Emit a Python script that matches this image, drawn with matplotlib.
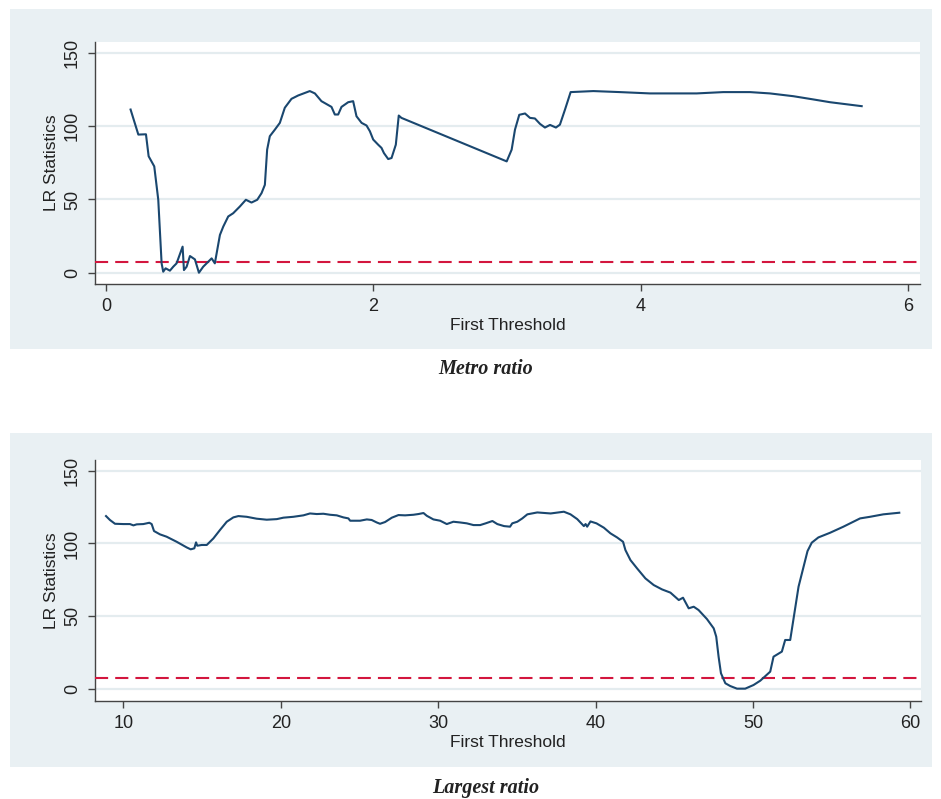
import matplotlib
matplotlib.use("Agg")
import matplotlib.pyplot as plt
from matplotlib.patches import Rectangle

plt.rcParams['font.family'] = ['Liberation Sans', 'DejaVu Sans']

# ---------------- data ----------------
metro_x = [0.184, 0.242, 0.299, 0.319, 0.361, 0.391, 0.416, 0.428, 0.446, 0.478, 0.503, 0.528,
           0.573, 0.583, 0.603, 0.628, 0.665, 0.695, 0.727, 0.790, 0.814, 0.852, 0.877, 0.914,
           0.951, 1.001, 1.046, 1.088, 1.131, 1.163, 1.188, 1.205, 1.225, 1.263, 1.300, 1.337,
           1.387, 1.437, 1.524, 1.562, 1.611, 1.686, 1.711, 1.736, 1.761, 1.811, 1.848, 1.873,
           1.911, 1.948, 1.973, 1.998, 2.035, 2.060, 2.078, 2.110, 2.135, 2.167, 2.189, 2.209,
           2.996, 3.033, 3.058, 3.090, 3.133, 3.170, 3.207, 3.245, 3.282, 3.320, 3.364, 3.394,
           3.432, 3.474, 3.644, 3.843, 4.067, 4.416, 4.615, 4.815, 4.964, 5.139, 5.288, 5.413,
           5.650]
metro_lr = [111.4, 94.3, 94.5, 79.5, 72.6, 49.8, 6.4, 0.7, 3.0, 1.4, 4.1, 6.4,
            17.8, 1.8, 4.1, 11.4, 9.1, 0.0, 4.1, 9.8, 6.4, 25.8, 31.5, 38.4,
            40.6, 45.2, 49.8, 47.9, 49.8, 54.3, 60.0, 84.0, 93.2, 97.7, 102.3, 112.6,
            118.7, 121.0, 124.0, 122.4, 117.1, 113.2, 108.0, 108.0, 113.2, 116.4, 117.1, 106.8,
            102.3, 100.5, 96.6, 90.9, 87.4, 85.2, 81.7, 77.6, 78.3, 87.4, 107.3, 105.7,
            76.0, 84.0, 97.7, 107.8, 108.7, 105.7, 105.3, 101.6, 99.1, 100.9, 99.1, 101.1,
            111.4, 123.3, 124.0, 123.3, 122.4, 122.4, 123.3, 123.3, 122.4, 120.5, 118.3, 116.4,
            113.7]

largest_x = [8.90, 9.15, 9.47, 10.00, 10.42, 10.64, 10.85, 11.27, 11.65, 11.80, 11.95, 12.33,
             12.75, 13.39, 14.03, 14.28, 14.51, 14.62, 14.70, 14.98, 15.30, 15.72, 16.14, 16.57,
             16.99, 17.31, 17.84, 18.47, 19.11, 19.75, 20.17, 20.59, 20.80, 21.44, 21.86, 22.29,
             22.71, 23.14, 23.56, 23.98, 24.30, 24.41, 25.04, 25.47, 25.78, 26.10, 26.31, 26.63,
             27.06, 27.48, 27.90, 28.43, 28.75, 29.07, 29.28, 29.70, 30.13, 30.55, 30.97, 31.40,
             31.82, 32.25, 32.67, 33.02, 33.45, 33.76, 34.19, 34.57, 34.71, 35.03, 35.35, 35.67,
             36.30, 37.15, 37.99, 38.41, 38.84, 39.26, 39.37, 39.47, 39.68, 40.06, 40.53, 40.95,
             41.37, 41.75, 41.90, 42.22, 42.64, 43.17, 43.70, 44.23, 44.76, 45.29, 45.56, 45.92,
             46.24, 46.55, 47.08, 47.51, 47.67, 47.82, 47.97, 48.25, 48.56, 48.99, 49.51, 50.04,
             50.47, 51.10, 51.31, 51.84, 52.05, 52.37, 52.90, 53.47, 53.74, 54.16, 54.90, 55.75,
             56.81, 57.44, 58.29, 59.30]
largest_lr = [118.8, 116.1, 113.5, 113.3, 113.3, 112.4, 113.1, 113.3, 114.2, 113.3, 108.5, 106.2,
              104.6, 101.1, 97.2, 95.9, 96.6, 100.7, 98.4, 98.9, 98.9, 103.4, 109.2, 114.9,
              117.9, 118.8, 118.3, 117.0, 116.3, 116.7, 117.7, 118.1, 118.3, 119.3, 120.6, 120.2,
              120.4, 119.7, 119.3, 117.9, 117.2, 115.6, 115.6, 116.5, 116.1, 114.4, 113.5, 114.7,
              117.7, 119.5, 119.3, 119.7, 120.2, 120.9, 119.0, 116.5, 115.6, 113.3, 114.9, 114.4,
              113.8, 112.6, 112.6, 113.8, 115.4, 113.3, 111.9, 111.5, 113.8, 114.9, 117.2, 120.0,
              121.3, 120.6, 121.8, 120.0, 116.7, 111.9, 113.3, 111.5, 115.1, 113.8, 110.8, 106.9,
              104.1, 101.1, 95.4, 88.5, 82.8, 75.9, 71.3, 68.3, 66.1, 61.0, 62.6, 55.3,
              56.4, 54.1, 47.9, 41.5, 35.8, 22.0, 10.6, 3.7, 1.8, 0.0, 0.0, 2.5,
              5.5, 11.7, 22.0, 25.5, 33.5, 33.5, 70.2, 94.7, 100.5, 104.1, 107.3, 111.5,
              117.2, 118.3, 120.0, 121.1]

critical_value = 7.35
y_ticks = [0, 50, 100, 150]
metro_xticks = [0, 2, 4, 6]
largest_xticks = [10, 20, 30, 40, 50, 60]
x_label = "First Threshold"
y_label = "LR Statistics"
captions = ["Metro ratio", "Largest ratio"]

# ---------------- style ----------------
W, H = 941, 799
fig = plt.figure(figsize=(W / 100, H / 100), dpi=100)
panel_color = '#e9f0f3'
grid_color = '#e4ecef'
line_color = '#1a476f'
red = '#d3163e'
spine_color = '#444444'


def fx(px):
    return px / W


def fy(py):
    return 1 - py / H


def make_panel(panel_px, ax_px, x, y, xticks, xlim, ylim, caption, cap_y):
    l, t, r, b = panel_px
    fig.patches.append(Rectangle((fx(l), fy(b)), fx(r - l), (b - t) / H,
                                 transform=fig.transFigure, facecolor=panel_color,
                                 edgecolor='none', zorder=-10))
    al, at, ar, ab = ax_px
    ax = fig.add_axes([fx(al), fy(ab), fx(ar - al), (ab - at) / H])
    ax.set_zorder(1)
    ax.set_facecolor('white')
    for s in ['top', 'right']:
        ax.spines[s].set_visible(False)
    for s in ['left', 'bottom']:
        ax.spines[s].set_color(spine_color)
        ax.spines[s].set_linewidth(1.0)
    ax.set_yticks(y_ticks)
    ax.set_xticks(xticks)
    ax.set_xlim(*xlim)
    ax.set_ylim(*ylim)
    ax.grid(axis='y', color=grid_color, linewidth=1.6)
    ax.set_axisbelow(True)
    ax.tick_params(axis='both', direction='out', length=5, width=1.0, color=spine_color,
                   labelsize=13, labelcolor='#222222', pad=5)
    for lab in ax.get_yticklabels():
        lab.set_rotation(90)
        lab.set_va('center')
    ax.axhline(critical_value, color=red, linewidth=1.5, dashes=(6.3, 3.4), zorder=3)
    ax.plot(x, y, color=line_color, linewidth=1.5, zorder=4)
    ax.set_xlabel(x_label, fontsize=12.5, color='#222222', labelpad=2)
    ax.set_ylabel(y_label, fontsize=12.5, color='#222222', labelpad=4)
    fig.text(fx(486), fy(cap_y), caption, ha='center', va='center',
             family=['Liberation Serif', 'DejaVu Serif'], fontweight='bold',
             style='italic', fontsize=14.5, color='#222222')
    return ax


make_panel((10, 9, 932, 349), (95, 42, 920, 284), metro_x, metro_lr, metro_xticks,
           (-0.082, 6.086), (-7.7, 157.5), captions[0], 369)
make_panel((10, 433, 932, 767), (95, 460, 921, 701), largest_x, largest_lr, largest_xticks,
           (8.2, 60.68), (-8.5, 157.4), captions[1], 788)

fig.savefig('out.png', dpi=100, facecolor='white')
